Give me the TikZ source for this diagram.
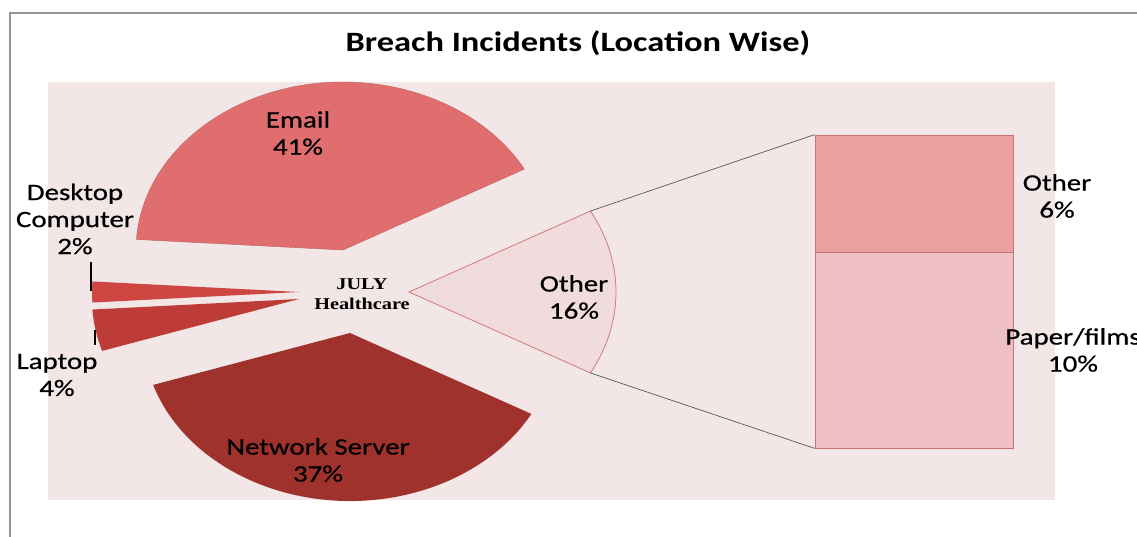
\documentclass[tikz,border=0pt]{standalone}
\usepackage{fontspec}
\setmainfont{Carlito}[FakeStretch=1.23,FakeBold=0.6]
\newfontfamily\titlefont{Carlito}[FakeStretch=1.23]
\newfontfamily\serifbold{Liberation Serif}[FakeStretch=1.23]
\definecolor{plotbg}{RGB}{242,230,230}
\definecolor{framegray}{RGB}{150,150,150}
\definecolor{emailc}{RGB}{225,110,110}
\definecolor{deskc}{RGB}{205,70,66}
\definecolor{lapc}{RGB}{190,60,56}
\definecolor{netc}{RGB}{160,50,46}
\definecolor{otherpie}{RGB}{240,219,221}
\definecolor{otherline}{RGB}{212,120,120}
\definecolor{bartopc}{RGB}{232,160,160}
\definecolor{barbotc}{RGB}{238,192,197}
\definecolor{barline}{RGB}{205,112,112}
\begin{document}
\begin{tikzpicture}[x=1pt,y=1pt,
  lbl/.style={align=center,font=\fontsize{23.5}{27}\selectfont,inner sep=0pt},
  leader/.style={draw=black,line width=1.2pt},
  conn/.style={draw=black!65,line width=0.7pt},
  barseg/.style={draw=barline,line width=0.8pt,minimum width=198pt,inner sep=0pt}]
\useasboundingbox (0,0) rectangle (1137,-537);
\fill[white] (0,0) rectangle (1137,-537);
\draw[framegray,line width=1.5pt] (10,-537) -- (10,-13) -- (1137,-13);
\fill[plotbg] (48,-82) rectangle (1055,-500);
\node[font=\titlefont\bfseries\fontsize{28}{32}\selectfont] (title) at (578,-43) {Breach Incidents (Location Wise)};
% pie slices
\filldraw[fill=emailc,draw=emailc!85!black,line width=0.4pt] (343,-250) -- ++(28.8:207 and 168) arc[start angle=28.8,end angle=176.4,x radius=207,y radius=168] -- cycle;
\fill[deskc] (299,-292) -- ++(176.4:207 and 168) arc[start angle=176.4,end angle=183.6,x radius=207,y radius=168] -- cycle;
\fill[lapc] (299,-299) -- ++(183.6:207 and 168) arc[start angle=183.6,end angle=198,x radius=207,y radius=168] -- cycle;
\fill[netc] (350,-333) -- ++(198:207 and 168) arc[start angle=198,end angle=331.2,x radius=207,y radius=168] -- cycle;
\filldraw[fill=otherpie,draw=otherline,line width=0.8pt] (409,-292) -- ++(-28.8:207 and 168) arc[start angle=-28.8,end angle=28.8,x radius=207,y radius=168] -- cycle;
\path (409,-292) ++(28.8:207 and 168) coordinate (otop);
\path (409,-292) ++(-28.8:207 and 168) coordinate (obot);
% bar
\node[barseg,fill=bartopc,minimum height=117pt] (bartop) at (914,-193.5) {};
\node[barseg,fill=barbotc,minimum height=196pt] (barbot) at (914,-350) {};
\draw[conn] (otop) -- (bartop.north west);
\draw[conn] (obot) -- (barbot.south west);
% labels
\node[font=\serifbold\bfseries\fontsize{16.5}{20}\selectfont,align=center,inner sep=0pt] (centerlbl) at (362,-294) {JULY\\Healthcare};
\node[lbl] (email) at (298,-133) {Email\\41\%};
\node[lbl] (desk) at (75,-219) {Desktop\\Computer\\2\%};
\node[lbl] (laptop) at (57,-375) {Laptop\\4\%};
\node[lbl] (other16) at (574,-297) {Other\\16\%};
\node[lbl] (net) at (318,-460) {Network Server\\37\%};
\node[lbl] (other6) at (1057,-196) {Other\\6\%};
\node[lbl] (paper) at (1073,-350) {Paper/films\\10\%};
% leader lines
\coordinate (dl1) at (91,-262);
\coordinate (dl2) at (91,-291);
\coordinate (ll1) at (95,-330);
\coordinate (ll2) at (95,-345);
\draw[leader] (dl1) -- (dl2);
\draw[leader] (ll1) -- (ll2);
\end{tikzpicture}
\end{document}
